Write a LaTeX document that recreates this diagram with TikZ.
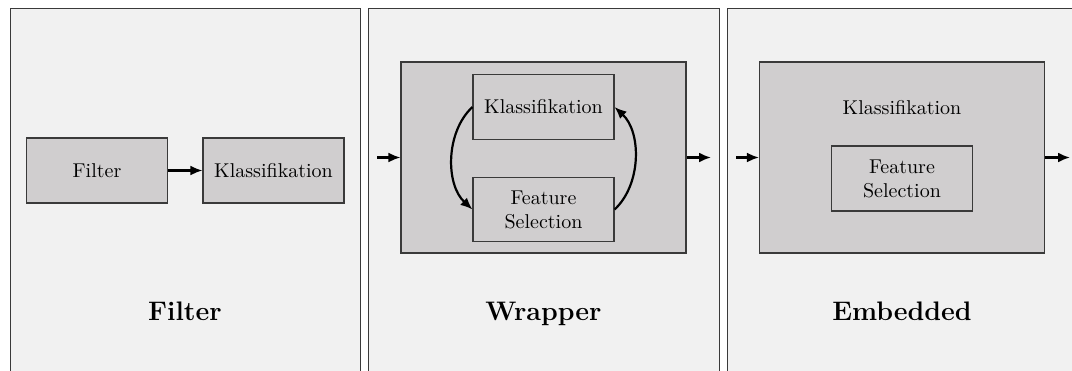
\documentclass[tikz,border=0pt]{standalone}
\usetikzlibrary{arrows.meta}
\definecolor{panelbg}{HTML}{F1F1F1}
\definecolor{boxfill}{HTML}{D0CECF}
\definecolor{edge}{HTML}{3A3A3A}
\begin{document}
\begin{tikzpicture}[x=0.5pt,y=-0.5pt,
  panel/.style={draw=edge,fill=panelbg,line width=0.5pt},
  outerbox/.style={draw=edge,fill=boxfill,line width=0.55pt,minimum width=142.5pt,minimum height=95.5pt,inner sep=0pt},
  stepbox/.style={draw=edge,fill=boxfill,line width=0.55pt,minimum width=70.5pt,minimum height=32.5pt,inner sep=1pt,align=center,font=\normalsize},
  title/.style={font=\fontsize{13.4}{16}\selectfont\bfseries,anchor=base},
  flow/.style={-{Latex[length=6pt,width=5pt]},line width=1.1pt,black}]
\useasboundingbox (0,0) rectangle (1072,370);
\clip (0,0) rectangle (1072,370);

% three panels, open towards the bottom
\draw[panel] (10,8) rectangle (360,390);
\draw[panel] (368.5,8) rectangle (719,390);
\draw[panel] (727,8) rectangle (1078,390);

% Filter
\node[stepbox] (f1) at (97,170.5) {Filter};
\node[stepbox] (k1) at (273.5,170.5) {Klassifikation};
\draw[flow] (f1) -- (k1);
\node[title] (t1) at (185,320) {Filter};

% Wrapper
\node[outerbox] (w) at (543.5,157.5) {};
\node[stepbox] (k2) at (543.5,107) {Klassifikation};
\node[stepbox,minimum height=32pt] (s2) at (543.5,209.5) {Feature\\Selection};
\coordinate (win) at (377,157.5);
\coordinate (wout) at (711,157.5);
\draw[flow] (win) -- (w.west);
\draw[flow] (w.east) -- (wout);
\draw[flow] (k2.west) .. controls +(-27,25) and +(-27,-25) .. (s2.west);
\draw[flow] (s2.east) .. controls +(27,-25) and +(27,25) .. (k2.east);
\node[title] (t2) at (543.5,320) {Wrapper};

% Embedded
\node[outerbox] (e) at (902,157.5) {};
\node[anchor=base,font=\normalsize] (k3) at (902,114) {Klassifikation};
\node[stepbox] (s3) at (902,178.5) {Feature\\Selection};
\coordinate (ein) at (736,157.5);
\coordinate (eout) at (1070,157.5);
\draw[flow] (ein) -- (e.west);
\draw[flow] (e.east) -- (eout);
\node[title] (t3) at (902,320) {Embedded};
\end{tikzpicture}
\end{document}
